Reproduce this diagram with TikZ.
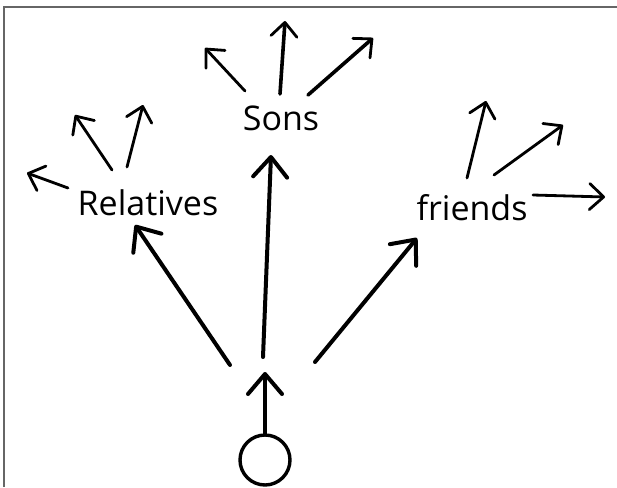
\documentclass[tikz,border=0pt]{standalone}
\usepackage{fontspec}
\setmainfont{Open Sans}
\usetikzlibrary{arrows.meta}
\tikzset{
  x=1pt, y=-1pt,
  lbl/.style={inner sep=0pt, font=\fontsize{34}{36}\selectfont},
  mainarrow/.style={line width=4pt, line cap=round, black,
    -{Straight Barb[length=20pt, width=34pt, line width=4pt, round]}},
  subarrow/.style={line width=2.8pt, line cap=round, black,
    -{Straight Barb[length=14pt, width=26pt, line width=2.8pt, round]}},
  thicksub/.style={subarrow, line width=3.6pt},
  framebar/.style={draw=gray!80!black, line width=1.2pt}
}
\begin{document}
\begin{tikzpicture}
\useasboundingbox (0,0) rectangle (617,487);
\draw[framebar] (4,487) -- (4,7) -- (617,7);

% nodes
\node[lbl] (rel) at (148,203) {Relatives};
\node[lbl] (sons) at (281,118) {Sons};
\node[lbl] (fri) at (472,208) {friends};
\node[circle, draw, line width=3.4pt, minimum size=50pt, inner sep=0pt] (me) at (265,460) {};

% main arrows
\coordinate (c0) at (265,372);
\coordinate (l0) at (230,365);
\coordinate (l1) at (135,225);
\coordinate (m0) at (263,357);
\coordinate (m1) at (271,155);
\coordinate (r0) at (315,362);
\coordinate (r1) at (417,238);
\draw[mainarrow] (me.north) -- (c0);
\draw[mainarrow] (l0) -- (l1);
\draw[mainarrow] (m0) -- (m1);
\draw[mainarrow] (r0) -- (r1);

% relatives
\coordinate (ra0) at (68,188);  \coordinate (ra1) at (27,173);
\coordinate (rb0) at (112,170); \coordinate (rb1) at (75,115);
\coordinate (rc0) at (127,167); \coordinate (rc1) at (143,105);
\draw[subarrow] (ra0) -- (ra1);
\draw[subarrow] (rb0) -- (rb1);
\draw[subarrow] (rc0) -- (rc1);

% sons
\coordinate (sa0) at (245,91);  \coordinate (sa1) at (205,48);
\coordinate (sb0) at (280,94);  \coordinate (sb1) at (285,21);
\coordinate (sc0) at (308,95);  \coordinate (sc1) at (373,38);
\draw[subarrow] (sa0) -- (sa1);
\draw[thicksub] (sb0) -- (sb1);
\draw[thicksub] (sc0) -- (sc1);

% friends
\coordinate (fa0) at (467,178); \coordinate (fa1) at (486,101);
\coordinate (fb0) at (494,175); \coordinate (fb1) at (563,125);
\coordinate (fc0) at (533,195); \coordinate (fc1) at (605,197);
\draw[subarrow] (fa0) -- (fa1);
\draw[subarrow] (fb0) -- (fb1);
\draw[subarrow] (fc0) -- (fc1);
\end{tikzpicture}
\end{document}
